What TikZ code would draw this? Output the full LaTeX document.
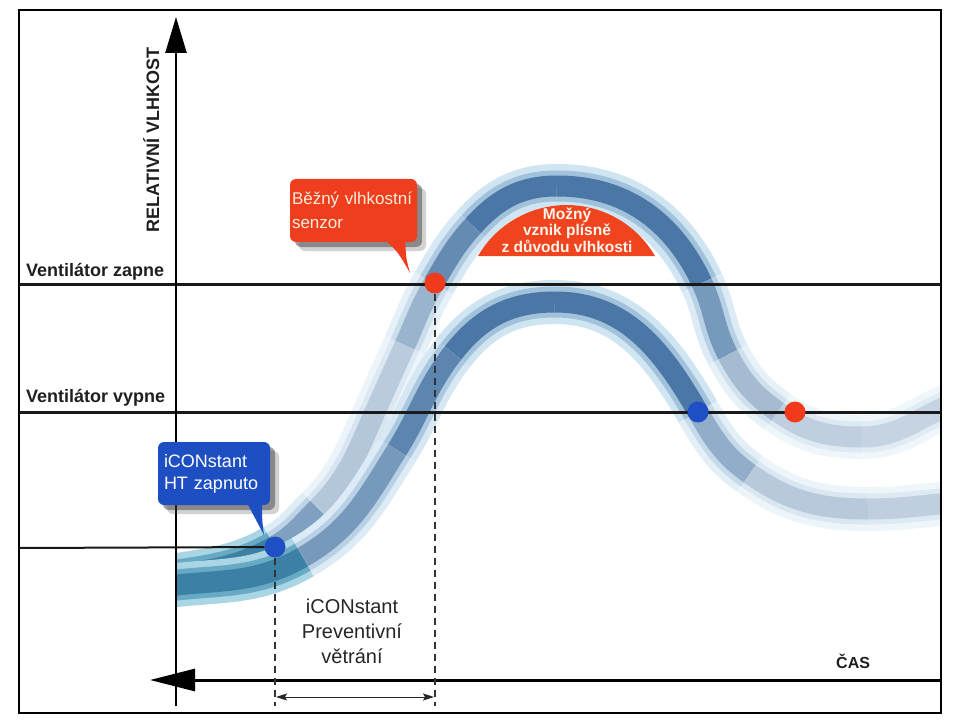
\documentclass[tikz,border=0pt]{standalone}
\usepackage{fontspec}
\setmainfont{Liberation Sans}
\usetikzlibrary{arrows.meta,shadows,positioning}
\definecolor{blight}{HTML}{D0E5F2}
\definecolor{bmid}{HTML}{A2C2DC}
\definecolor{bdark}{HTML}{4A77A6}
\definecolor{tlight}{HTML}{A9D5E5}
\definecolor{tmid}{HTML}{68AAC4}
\definecolor{tdark}{HTML}{3C80A6}
\definecolor{dotred}{HTML}{F03A1C}
\definecolor{dotblue}{HTML}{1F4FC4}
\definecolor{calloutred}{HTML}{EE3E1E}
\definecolor{calloutblue}{HTML}{1E4FC2}
\definecolor{moldred}{HTML}{F0441F}
\tikzstyle{band} = [line width=44pt,draw=blight!#1!white,postaction={draw=bmid!#1!white,line width=31pt},postaction={draw=bdark!#1!white,line width=21pt}]
\tikzstyle{tealband} = [line width=44pt,draw=tlight,postaction={draw=tmid,line width=31pt},postaction={draw=tdark,line width=21pt}]
\tikzstyle{level} = [-,line width=3pt,color=black!90]
\tikzstyle{guide} = [-,line width=1.1pt,dash pattern=on 7pt off 5pt,color=black!80]
\tikzstyle{span} = [{Stealth[length=11pt,width=7pt,inset=2pt]}-{Stealth[length=11pt,width=7pt,inset=2pt]},line width=1pt,color=black!85]
\tikzstyle{dot} = [circle,inner sep=0,minimum size=\dotsize]
\tikzstyle{axislabel} = [font=\fontsize{18}{20}\selectfont\bfseries,text=black!88,inner sep=0]
\tikzstyle{callout} = [rectangle,rounded corners=6pt,align=left,inner ysep=0,drop shadow={shadow xshift=5pt,shadow yshift=-5pt,opacity=.45,fill=black!85},drop shadow={shadow xshift=9pt,shadow yshift=-9pt,opacity=.25,fill=black!70}]
\def \dotsize {21pt}

\begin{document}
\begin{tikzpicture}[x=1pt,y=1pt]
  \useasboundingbox (0,0) rectangle (960,-727);
  % common sensor curve
  \coordinate (u0) at (160,-578);
  \coordinate (u1) at (275,-546);
  \coordinate (u1a) at (318,-508);
  \coordinate (u2) at (375,-412);
  \coordinate (u2a) at (405,-345);
  \coordinate (u3) at (434,-283);
  \coordinate (u3a) at (473,-226);
  \coordinate (u4) at (557,-186);
  \coordinate (u5) at (702,-283);
  \coordinate (u5a) at (728,-355);
  \coordinate (u6) at (778,-412);
  \coordinate (u7) at (862,-437);
  \coordinate (u8) at (950,-405);
  % iCONstant curve
  \coordinate (l0) at (160,-587);
  \coordinate (l1) at (303,-557);
  \coordinate (l2) at (397,-450);
  \coordinate (l3) at (453,-353);
  \coordinate (l4) at (555,-302);
  \coordinate (l5) at (698,-412);
  \coordinate (l5a) at (750,-474);
  \coordinate (l6) at (868,-509);
  \coordinate (l7) at (950,-503);
  \begin{scope}
    \clip (176,-10) rectangle (941,-713);
    \draw[tealband] (u0) to[out=10,in=210] (u1);
    \draw[band=70] (u1) to[out=30,in=225] (u1a);
    \draw[band=42] (u1a) to[out=45,in=246] (u2);
    \draw[band=38] (u2) to[out=66,in=246] (u2a);
    \draw[band=55] (u2a) to[out=66,in=240] (u3);
    \draw[band=85] (u3) to[out=60,in=228] (u3a);
    \draw[band=100] (u3a) to[out=48,in=180] (u4);
    \draw[band=100] (u4) to[out=0,in=115] (u5);
    \draw[band=75] (u5) to[out=-65,in=118] (u5a);
    \draw[band=50] (u5a) to[out=-62,in=145] (u6);
    \draw[band=35] (u6) to[out=-35,in=180] (u7);
    \draw[band=32] (u7) to[out=0,in=202] (u8);
    \draw[tealband] (l0) to[out=8,in=210] (l1);
    \draw[band=75] (l1) to[out=30,in=238] (l2);
    \draw[band=90] (l2) to[out=58,in=232] (l3);
    \draw[band=100] (l3) to[out=52,in=180] (l4);
    \draw[band=100] (l4) to[out=0,in=120] (l5);
    \draw[band=60] (l5) to[out=-60,in=145] (l5a);
    \draw[band=40] (l5a) to[out=-35,in=180] (l6);
    \draw[band=35] (l6) to[out=0,in=185] (l7);
  \end{scope}
  \fill[moldred] (477.9,-256.2) arc[start angle=150,end angle=30,radius=102.3] -- cycle;
  \node[font=\fontsize{15.5}{16.5}\selectfont\bfseries,text=orange!8,align=center,inner sep=0] (mold) at (567,-230) {Možný\\vznik plísně\\z důvodu vlhkosti};
  \draw[line width=2pt] (19,-10) rectangle (941,-713);
  \draw[level] (19,-284) -- (941,-284);
  \draw[level] (19,-412) -- (941,-412);
  \draw[-{Triangle[length=36pt,width=21pt]},line width=2.5pt] (176,-706) -- (176,-17);
  \draw[-{Triangle[length=45pt,width=22pt]},line width=3pt] (941,-680) -- (150,-680);
  \node[axislabel,rotate=90,anchor=base] (rh) at (159,-140) {RELATIVNÍ VLHKOST};
  \node[axislabel,anchor=base west] (zap) at (26,-276) {Ventilátor zapne};
  \node[axislabel,anchor=base west] (vyp) at (26,-402) {Ventilátor vypne};
  \node[axislabel,font=\fontsize{16}{18}\selectfont\bfseries,anchor=base west] (cas) at (836,-668) {ČAS};
  \node[dot,fill=dotred] (sensorOn) at (435,-283) {};
  \node[dot,fill=dotblue] (iconOn) at (275,-547) {};
  \node[dot,fill=dotblue] (iconOff) at (698,-412) {};
  \node[dot,fill=dotred] (sensorOff) at (795,-412) {};
  \draw[line width=2pt,color=black!90] (19,-548) -- (iconOn);
  \coordinate (dashA) at (275,-706);
  \coordinate (dashB) at (435,-706);
  \draw[guide] (iconOn) -- (dashA);
  \draw[guide] (sensorOn) -- (dashB);
  \coordinate (spanA) at (276,-697);
  \coordinate (spanB) at (434,-697);
  \draw[span] (spanA) -- (spanB);
  \node[font=\fontsize{20}{25}\selectfont,text=black!85,align=center,inner sep=0] (prev) at (352,-631) {iCONstant\\Preventivní\\větrání};
  % callouts
  \node[callout,fill=calloutred,text=orange!15,font=\fontsize{17}{24}\selectfont,minimum width=127pt,minimum height=63pt,text width=123pt,inner xsep=2pt] (senzor) at (353.5,-210.5) {Běžný vlhkostní\\senzor};
  \coordinate (senzorTip) at (410,-273);
  \fill[calloutred] ([xshift=-32pt,yshift=2pt]senzor.south east) .. controls (398,-252) .. (senzorTip) .. controls (406,-258) .. ([xshift=-12pt,yshift=2pt]senzor.south east) -- cycle;
  \node[callout,fill=calloutblue,text=white,font=\fontsize{18}{22}\selectfont,minimum width=112pt,minimum height=63pt,text width=100pt,inner xsep=6pt] (htOn) at (214,-473.5) {iCONstant\\HT zapnuto};
  \coordinate (htTip) at (264,-535);
  \fill[calloutblue] ([xshift=-23pt,yshift=2pt]htOn.south east) .. controls (255,-518) .. (htTip) .. controls (262,-520) .. ([xshift=-8pt,yshift=2pt]htOn.south east) -- cycle;
\end{tikzpicture}
\end{document}
